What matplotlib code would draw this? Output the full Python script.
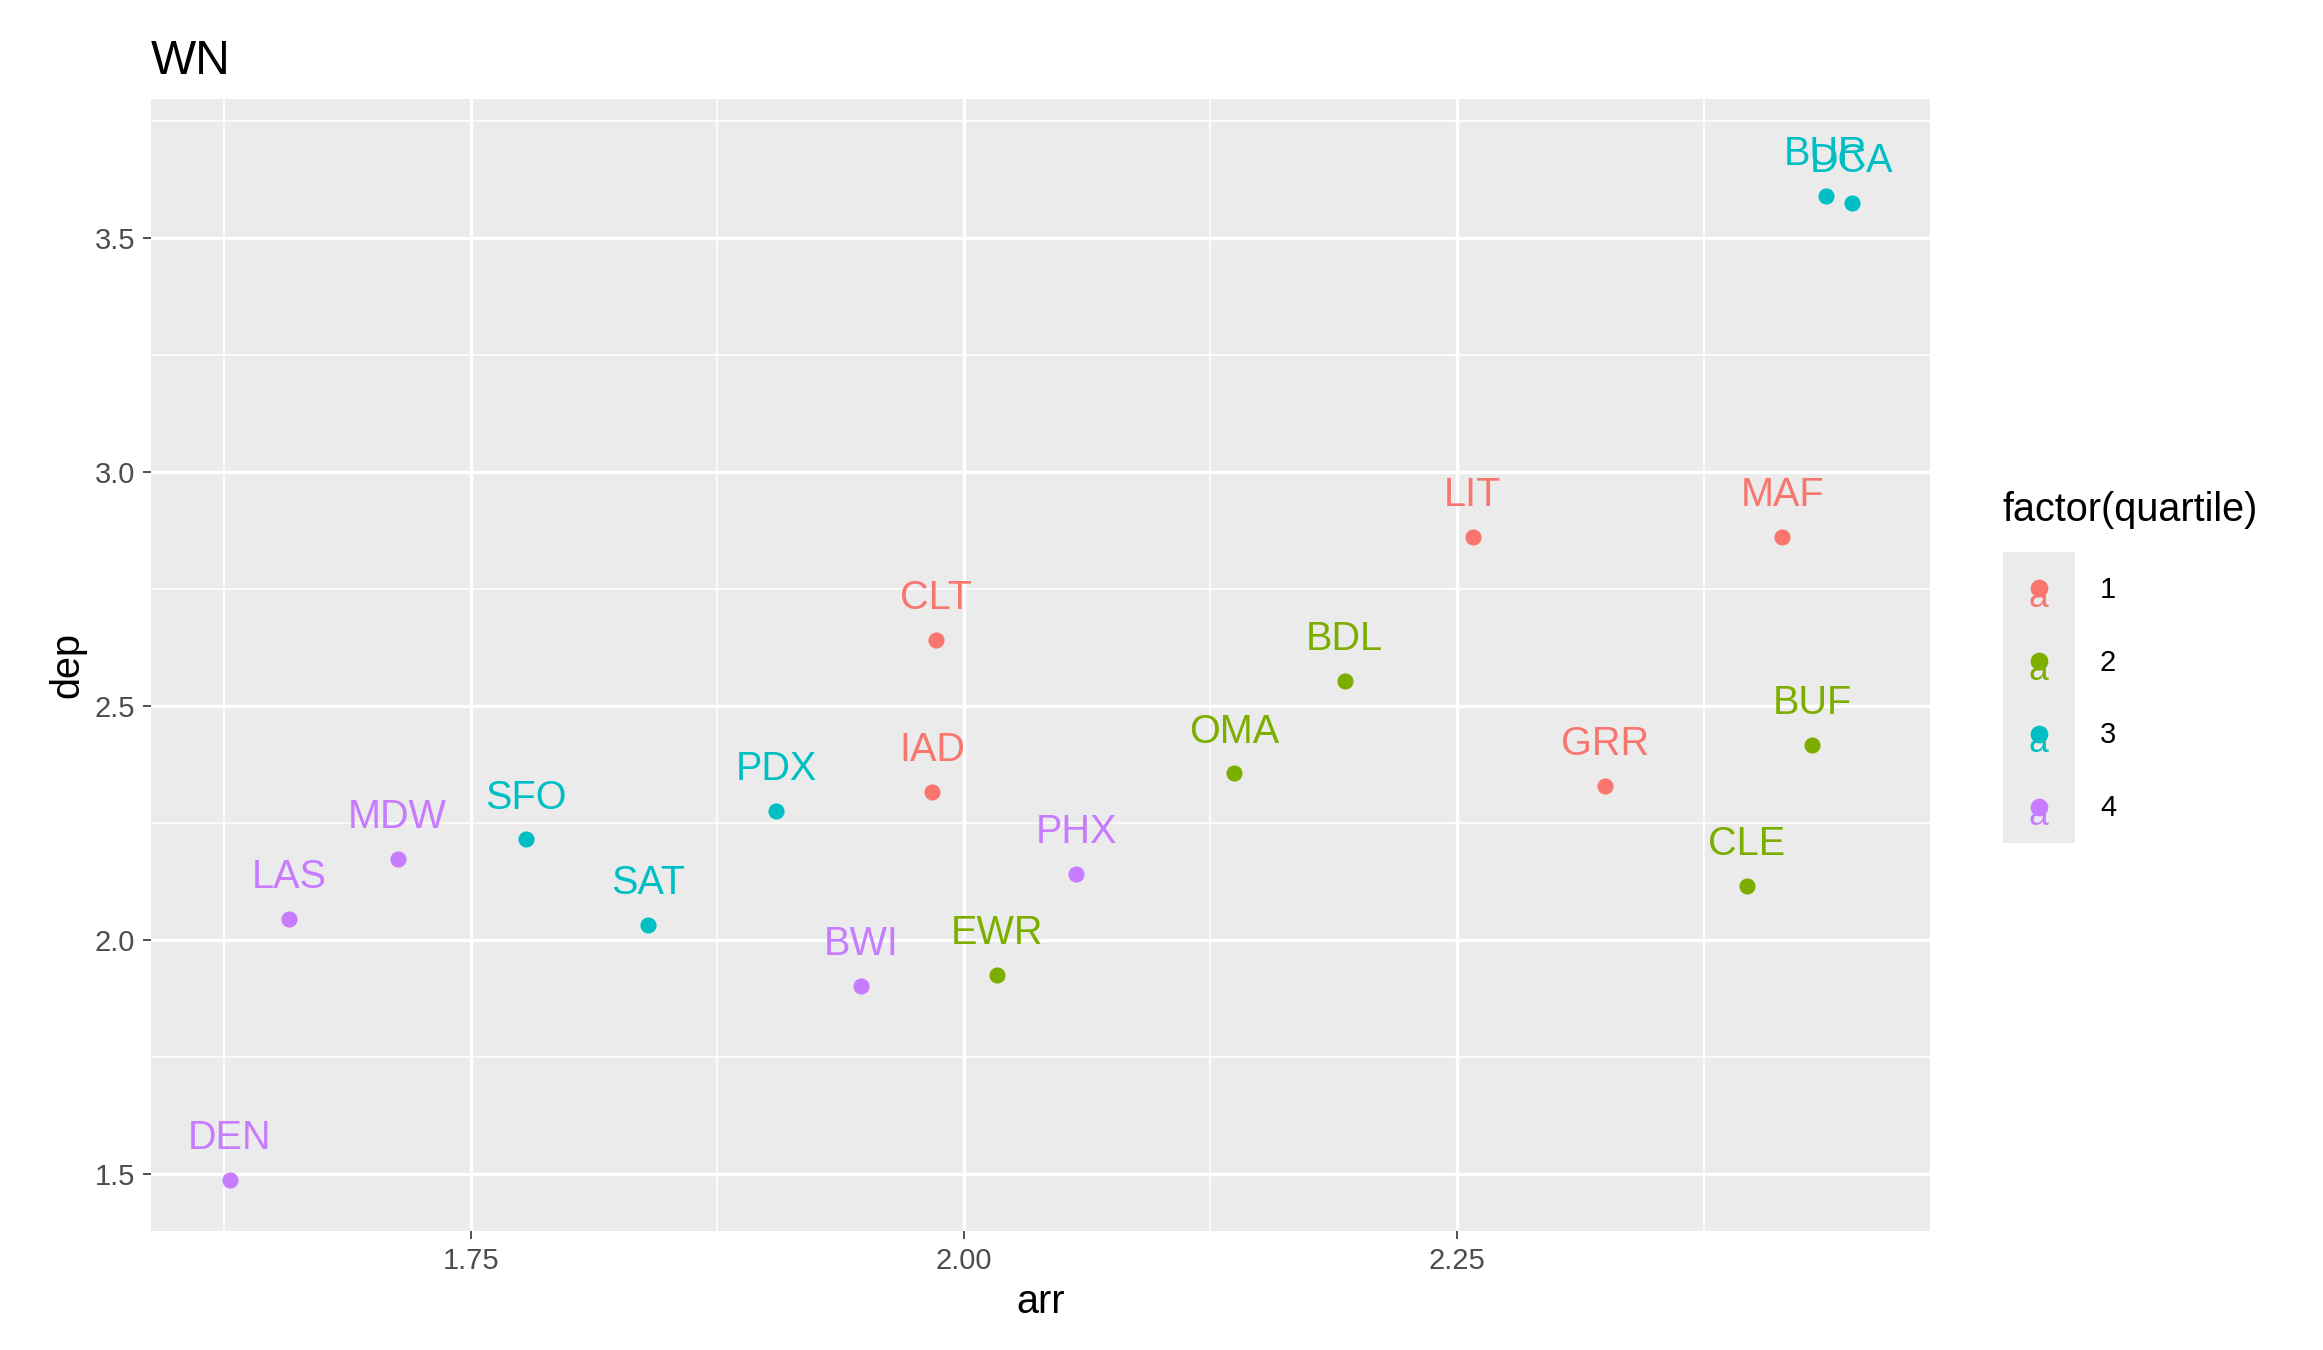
import matplotlib
matplotlib.use("Agg")
import matplotlib.pyplot as plt
from matplotlib.patches import Rectangle

codes = ["DEN","LAS","MDW","SFO","SAT","PDX","BWI","IAD","CLT","EWR","PHX","OMA","BDL","LIT","GRR","CLE","MAF","BUF","BUR","DCA"]
arr = [1.628,1.658,1.713,1.778,1.840,1.905,1.948,1.984,1.986,2.017,2.057,2.137,2.193,2.258,2.325,2.397,2.415,2.430,2.437,2.450]
dep = [1.487,2.045,2.173,2.215,2.032,2.276,1.901,2.317,2.641,1.926,2.141,2.356,2.554,2.862,2.330,2.115,2.862,2.417,3.590,3.574]
quartile = [4,4,4,3,3,3,4,1,1,2,4,2,2,1,1,2,1,2,3,3]
colors = {1:"#F8766D",2:"#7CAE00",3:"#00BFC4",4:"#C77CFF"}

plt.rcParams['font.family'] = ['Liberation Sans','DejaVu Sans']
fig = plt.figure(figsize=(2323/150,1350/150), dpi=150)
ax = fig.add_axes([0.065,0.088,0.766,0.839])
ax.set_facecolor("#EBEBEB")
ax.set_xlim(1.588,2.490); ax.set_ylim(1.378,3.798)
ax.set_xticks([1.75,2.0,2.25]); ax.set_xticklabels(["1.75","2.00","2.25"])
ax.set_yticks([1.5,2.0,2.5,3.0,3.5]); ax.set_yticklabels(["1.5","2.0","2.5","3.0","3.5"])
ax.set_xticks([1.625,1.875,2.125,2.375], minor=True)
ax.set_yticks([1.75,2.25,2.75,3.25,3.75], minor=True)
ax.grid(which="major", color="white", lw=1.6)
ax.grid(which="minor", color="white", lw=0.8)
ax.set_axisbelow(True)
for s in ax.spines.values(): s.set_visible(False)
ax.tick_params(which="both", length=4, color="#333333", labelsize=14, labelcolor="#4D4D4D")
ax.tick_params(which="minor", length=0)
for c,x,y,q in zip(codes,arr,dep,quartile):
    ax.scatter(x,y,s=60,color=colors[q],zorder=3,linewidths=0)
    ax.annotate(c,(x,y),xytext=(0,11),textcoords="offset points",ha="center",va="bottom",
                color=colors[q],fontsize=19)
ax.set_xlabel("arr", fontsize=19)
ax.set_ylabel("dep", fontsize=19)
ax.set_title("WN", loc="left", fontsize=23, pad=12)

# legend
W,H = 1552,902
fig.text(1338/W, 1-341/H, "factor(quartile)", fontsize=19, va="center", ha="left")
fig.patches.append(Rectangle((1338/W,1-563/H),48/W,194/H,transform=fig.transFigure,
                             facecolor="#EBEBEB",edgecolor="none"))
for i,q in enumerate([1,2,3,4]):
    yy = 1-(394+i*48.7)/H
    fig.text(1362/W, yy-5/H, "a", color=colors[q], fontsize=17, ha="center", va="center")
    fig.add_artist(plt.Line2D([1362/W],[yy+1/H],marker="o",ms=7.5,color=colors[q],lw=0,
                              transform=fig.transFigure))
    fig.text(1403/W, yy, str(q), fontsize=14, va="center", ha="left")
fig.savefig("out.png", dpi=150)
